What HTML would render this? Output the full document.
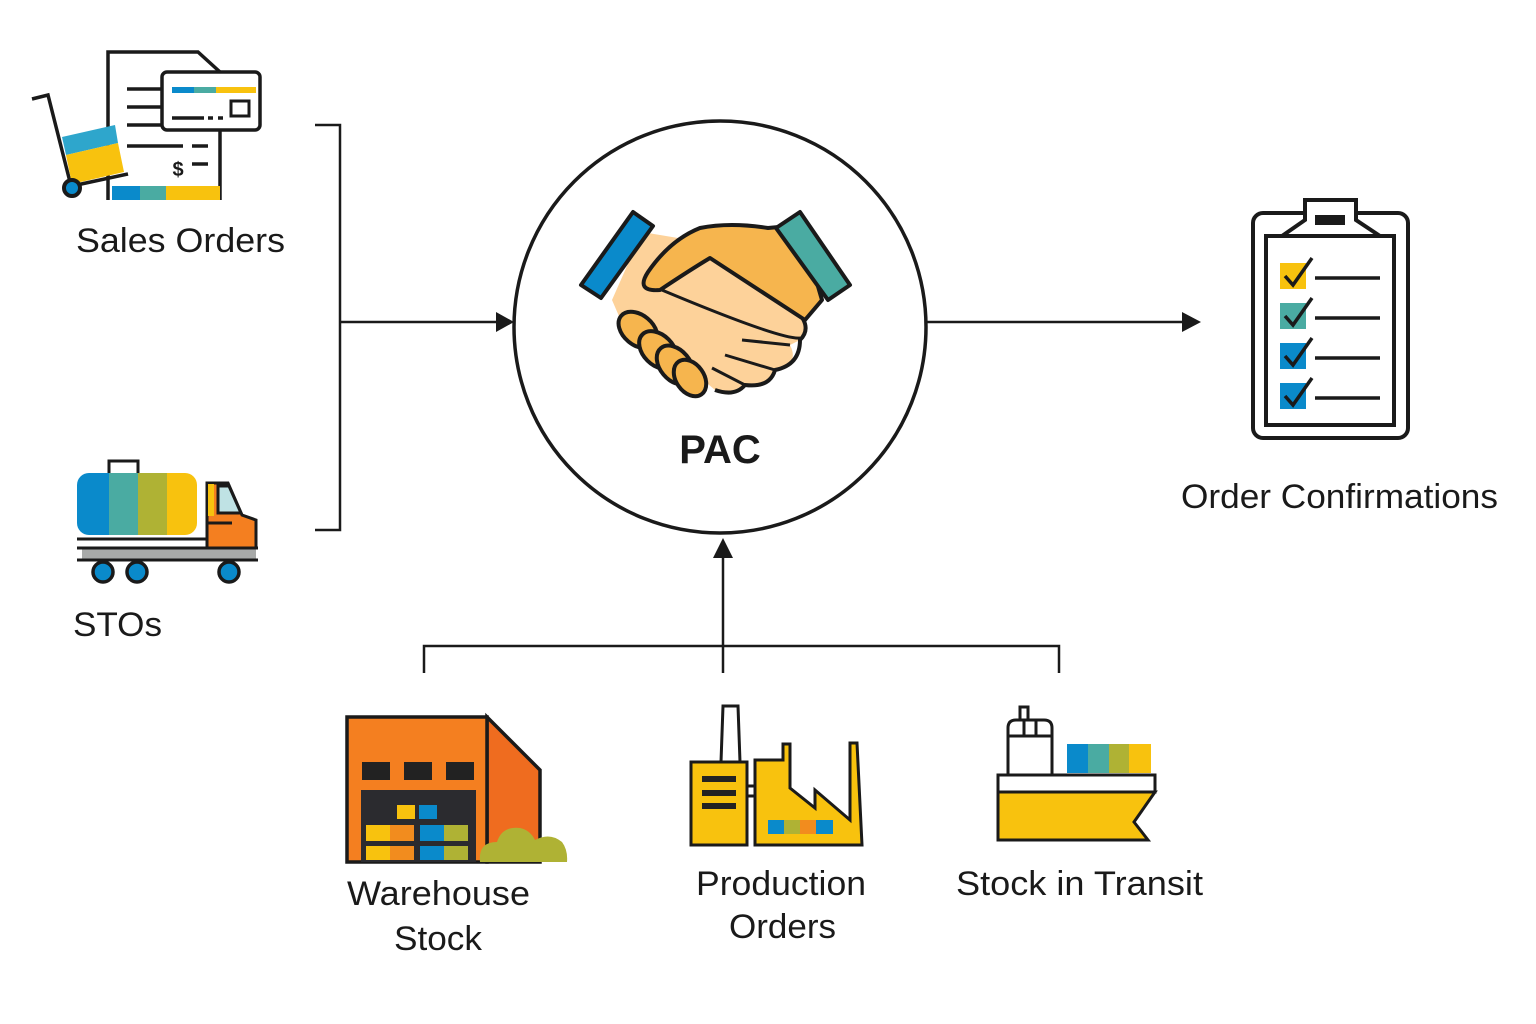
<!DOCTYPE html>
<html><head><meta charset="utf-8"><style>
html,body{margin:0;padding:0;background:#fff;}
svg{display:block;}
text{font-family:"Liberation Sans",sans-serif;fill:#1a1a1a;}
</style></head><body>
<svg width="1536" height="1024" viewBox="0 0 1536 1024" xmlns="http://www.w3.org/2000/svg">
<rect width="1536" height="1024" fill="#fff"/>
<g stroke="#1a1a1a" stroke-width="2.5" fill="none">
<polyline points="315,125 340,125 340,530 315,530"/>
<line x1="340" y1="322" x2="498" y2="322"/>
<line x1="925" y1="322" x2="1184" y2="322"/>
<line x1="723" y1="673" x2="723" y2="556"/>
<polyline points="424,673 424,646 1059,646 1059,673"/>
</g>
<polygon points="496,312 514,322 496,332" fill="#1a1a1a"/>
<polygon points="1182,312 1201,322 1182,332" fill="#1a1a1a"/>
<polygon points="713,558 723,538 733,558" fill="#1a1a1a"/>
<circle cx="720" cy="327" r="206" fill="#fff" stroke="#1a1a1a" stroke-width="3.5"/>
<text x="720" y="463" font-size="40" font-weight="bold" text-anchor="middle">PAC</text>

<!-- handshake -->
<g stroke="#1a1a1a" stroke-width="4" stroke-linejoin="round">
<path d="M612,300 L642,232 L690,240 L720,258 L790,305 Q815,325 800,340 L790,345 Q800,365 775,370 Q770,388 745,385 Q735,397 715,390 L680,360 L625,330 Z" fill="#FDD29A" stroke="none"/>
<path d="M650,285 Q780,340 800,338 M742,340 L790,345 M725,355 L775,370 M712,368 L745,385" fill="none" stroke-width="3"/>
<path d="M790,305 Q815,325 800,340 Q800,365 775,370 Q770,388 745,385 Q735,397 715,390" fill="none"/>
<path d="M648,272 Q635,292 660,290 Q690,270 710,258 L805,320 L822,300 L800,225 L768,228 Q730,222 700,228 Q670,240 648,272 Z" fill="#F6B54E"/>
<path d="M581,285 L633,212 L653,226 L601,298 Z" fill="#0A8ACB"/>
<path d="M776,228 L800,212 L850,285 L828,300 Z" fill="#4AABA2"/>
<ellipse cx="638" cy="330" rx="22" ry="15" transform="rotate(40 638 330)" fill="#F6B54E"/>
<ellipse cx="658" cy="350" rx="22" ry="15" transform="rotate(45 658 350)" fill="#F6B54E"/>
<ellipse cx="675" cy="365" rx="22" ry="15" transform="rotate(50 675 365)" fill="#F6B54E"/>
<ellipse cx="690" cy="378" rx="20" ry="14" transform="rotate(55 690 378)" fill="#F6B54E"/>
</g>

<!-- Sales orders icon -->
<g stroke="#1a1a1a" stroke-width="3.5" fill="none">
<path d="M108,200 V52 H198 L220,72 V200" fill="#fff"/>
<rect x="112" y="186" width="28" height="14" fill="#0A8ACB" stroke="none"/>
<rect x="140" y="186" width="26" height="14" fill="#4AABA2" stroke="none"/>
<rect x="166" y="186" width="54" height="14" fill="#F8C20E" stroke="none"/>
<rect x="162" y="72" width="98" height="58" rx="5" fill="#fff"/>
<line x1="127" y1="89" x2="162" y2="89"/><line x1="127" y1="107" x2="162" y2="107"/><line x1="127" y1="125" x2="162" y2="125"/>
<line x1="127" y1="146" x2="183" y2="146"/><line x1="192" y1="146" x2="208" y2="146"/><line x1="192" y1="164" x2="208" y2="164"/>
<line x1="172" y1="118" x2="204" y2="118"/><line x1="208" y1="118" x2="213" y2="118"/><line x1="218" y1="118" x2="223" y2="118"/>
<rect x="231" y="101" width="18" height="15" stroke-width="3"/>
<path d="M32,99 L48,95 L70,182"/>
<path d="M72,186 L128,174"/>
</g>
<rect x="172" y="87" width="22" height="6" fill="#0A8ACB"/><rect x="194" y="87" width="22" height="6" fill="#4AABA2"/><rect x="216" y="87" width="40" height="6" fill="#F8C20E"/>
<text x="178" y="176" font-size="20" font-weight="bold" text-anchor="middle">$</text>
<polygon points="62,137 115,125 118,143 66,155" fill="#2EA6CC"/>
<polygon points="66,155 118,143 124,172 72,184" fill="#F8C20E"/>
<circle cx="72" cy="188" r="8" fill="#0A8ACB" stroke="#1a1a1a" stroke-width="4"/>
<text x="76" y="252" font-size="34" textLength="209" lengthAdjust="spacingAndGlyphs">Sales Orders</text>

<!-- truck -->
<g>
<rect x="109" y="461" width="29" height="14" fill="none" stroke="#1a1a1a" stroke-width="3"/>
<clipPath id="tk"><rect x="77" y="473" width="120" height="62" rx="12"/></clipPath>
<g clip-path="url(#tk)">
<rect x="77" y="473" width="32" height="62" fill="#0A8ACB"/><rect x="109" y="473" width="29" height="62" fill="#4AABA2"/>
<rect x="138" y="473" width="29" height="62" fill="#AFB234"/><rect x="167" y="473" width="30" height="62" fill="#F8C20E"/>
</g>
<path d="M207,548 V483 H228 L242,515 L256,520 V548 Z" fill="#F47F20" stroke="#1a1a1a" stroke-width="3"/>
<rect x="208" y="484" width="6" height="32" fill="#F8C20E"/>
<path d="M218,486 H229 L241,513 H218 Z" fill="#BFE2E4" stroke="#1a1a1a" stroke-width="3"/>
<line x1="207" y1="523" x2="232" y2="523" stroke="#1a1a1a" stroke-width="3"/>
<rect x="82" y="549" width="174" height="10" fill="#A8AAA9"/>
<g stroke="#1a1a1a" stroke-width="3"><line x1="77" y1="539" x2="207" y2="539"/><line x1="77" y1="548" x2="258" y2="548"/><line x1="77" y1="560" x2="258" y2="560"/></g>
<g fill="#0A8ACB" stroke="#1a1a1a" stroke-width="3.5"><circle cx="103" cy="572" r="10"/><circle cx="137" cy="572" r="10"/><circle cx="229" cy="572" r="10"/></g>
</g>
<text x="73" y="636" font-size="34" textLength="89" lengthAdjust="spacingAndGlyphs">STOs</text>

<!-- clipboard -->
<g stroke="#1a1a1a" stroke-width="4" fill="#fff">
<rect x="1253" y="213" width="155" height="225" rx="10"/>
<path d="M1282,236 L1305,220 V200 H1356 V220 L1380,236"/>
<rect x="1266" y="236" width="128" height="189"/>
</g>
<rect x="1315" y="215" width="30" height="10" fill="#1a1a1a"/>
<rect x="1280" y="263" width="26" height="26" fill="#F8C20E"/>
<rect x="1280" y="303" width="26" height="26" fill="#4AABA2"/>
<rect x="1280" y="343" width="26" height="26" fill="#0A8ACB"/>
<rect x="1280" y="383" width="26" height="26" fill="#0A8ACB"/>
<g stroke="#1a1a1a" stroke-width="3.5" fill="none">
<path d="M1285,276 L1293,285 L1312,258"/><path d="M1285,316 L1293,325 L1312,298"/>
<path d="M1285,356 L1293,365 L1312,338"/><path d="M1285,396 L1293,405 L1312,378"/>
<line x1="1315" y1="278" x2="1380" y2="278"/><line x1="1315" y1="318" x2="1380" y2="318"/>
<line x1="1315" y1="358" x2="1380" y2="358"/><line x1="1315" y1="398" x2="1380" y2="398"/>
</g>
<text x="1181" y="508" font-size="34" textLength="317" lengthAdjust="spacingAndGlyphs">Order Confirmations</text>

<!-- warehouse -->
<path d="M487,717 L540,770 V862 H487 Z" fill="#EF6C1F" stroke="#1a1a1a" stroke-width="3.5"/>
<rect x="347" y="717" width="140" height="145" fill="#F47F20" stroke="#1a1a1a" stroke-width="3.5"/>
<rect x="362" y="762" width="28" height="18" fill="#222"/><rect x="404" y="762" width="28" height="18" fill="#222"/><rect x="446" y="762" width="28" height="18" fill="#222"/>
<rect x="361" y="790" width="115" height="72" fill="#2b2b2f"/>
<rect x="397" y="805" width="18" height="14" fill="#F8C20E"/><rect x="419" y="805" width="18" height="14" fill="#0A8ACB"/>
<rect x="366" y="825" width="24" height="16" fill="#F8C20E"/><rect x="390" y="825" width="24" height="16" fill="#F28C1E"/>
<rect x="420" y="825" width="24" height="16" fill="#0A8ACB"/><rect x="444" y="825" width="24" height="16" fill="#AFB234"/>
<rect x="366" y="846" width="24" height="14" fill="#F8C20E"/><rect x="390" y="846" width="24" height="14" fill="#F28C1E"/>
<rect x="420" y="846" width="24" height="14" fill="#0A8ACB"/><rect x="444" y="846" width="24" height="14" fill="#AFB234"/>
<path d="M480,862 Q478,842 497,842 Q502,826 520,828 Q530,830 535,840 Q550,832 562,842 Q568,850 567,862 Z" fill="#AFB234"/>
<text x="347" y="905" font-size="34" textLength="183" lengthAdjust="spacingAndGlyphs">Warehouse</text>
<text x="394" y="950" font-size="34" textLength="88" lengthAdjust="spacingAndGlyphs">Stock</text>

<!-- factory -->
<g stroke="#1a1a1a" stroke-width="3">
<path d="M721,762 L723,706 H738 L740,762 Z" fill="#fff"/>
<rect x="747" y="786" width="8" height="10" fill="#fff"/>
<rect x="691" y="762" width="56" height="83" fill="#F8C20E"/>
<path d="M755,845 V760 H783 V744 H790 V788 L815,808 V790 L850,820 V743 H857 L862,845 Z" fill="#F8C20E"/>
</g>
<rect x="702" y="776" width="34" height="6" fill="#222"/><rect x="702" y="790" width="34" height="6" fill="#222"/><rect x="702" y="803" width="34" height="6" fill="#222"/>
<rect x="768" y="820" width="16" height="14" fill="#0A8ACB"/><rect x="784" y="820" width="16" height="14" fill="#AFB234"/>
<rect x="800" y="820" width="16" height="14" fill="#F28C1E"/><rect x="816" y="820" width="17" height="14" fill="#0A8ACB"/>
<text x="696" y="895" font-size="34" textLength="170" lengthAdjust="spacingAndGlyphs">Production</text>
<text x="729" y="938" font-size="34" textLength="107" lengthAdjust="spacingAndGlyphs">Orders</text>

<!-- ship -->
<g stroke="#1a1a1a" stroke-width="3">
<rect x="1020" y="707" width="8" height="14" fill="#fff"/>
<path d="M1008,775 V728 Q1008,720 1016,720 H1044 Q1052,720 1052,728 V775 Z" fill="#fff"/>
<line x1="1008" y1="736" x2="1052" y2="736"/><line x1="1024" y1="720" x2="1024" y2="736"/><line x1="1036" y1="720" x2="1036" y2="736"/>
<rect x="998" y="775" width="157" height="17" fill="#fff"/>
<path d="M998,792 H1155 L1134,822 L1148,840 H998 Z" fill="#F8C20E"/>
</g>
<rect x="1067" y="744" width="21" height="29" fill="#0A8ACB"/><rect x="1088" y="744" width="21" height="29" fill="#4AABA2"/>
<rect x="1109" y="744" width="20" height="29" fill="#AFB234"/><rect x="1129" y="744" width="22" height="29" fill="#F8C20E"/>
<text x="956" y="895" font-size="34" textLength="247" lengthAdjust="spacingAndGlyphs">Stock in Transit</text>
</svg>
</body></html>
